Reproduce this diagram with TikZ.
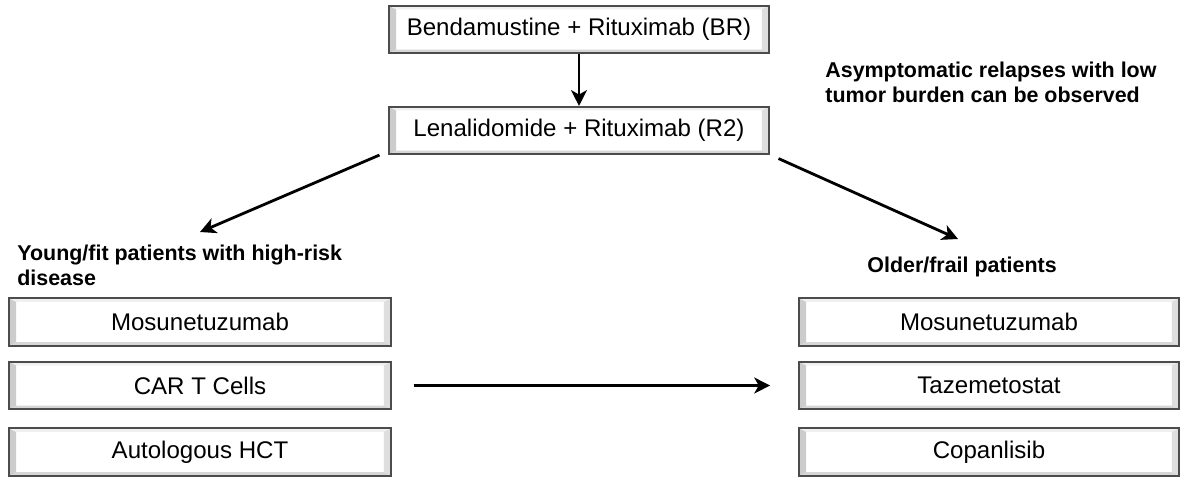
\documentclass[tikz,border=0pt]{standalone}
\usepackage{fontspec}
\setmainfont{Liberation Sans}
\usetikzlibrary{arrows.meta}

\tikzset{
  bevelbox/.style={draw=black!70, line width=0.9pt, fill=white,
    minimum height=0.95cm, inner sep=0pt,
    font=\fontsize{13.7}{16}\selectfont,
    path picture={
      \coordinate (pnw) at (path picture bounding box.north west);
      \coordinate (pne) at (path picture bounding box.north east);
      \coordinate (psw) at (path picture bounding box.south west);
      \coordinate (pse) at (path picture bounding box.south east);
      \fill[black!20] (pnw) -- (psw) -- ([shift={(4pt,2pt)}]psw) -- ([shift={(4pt,-2pt)}]pnw) -- cycle;
      \fill[black!6] (pnw) -- (pne) -- ([shift={(-4pt,-2pt)}]pne) -- ([shift={(4pt,-2pt)}]pnw) -- cycle;
      \fill[black!13] (pne) -- (pse) -- ([shift={(-4pt,2pt)}]pse) -- ([shift={(-4pt,-2pt)}]pne) -- cycle;
      \fill[black!16] (psw) -- (pse) -- ([shift={(-4pt,2pt)}]pse) -- ([shift={(4pt,2pt)}]psw) -- cycle;}},
  note/.style={font=\fontsize{12.2}{13.8}\selectfont\bfseries, align=left, inner sep=0pt},
  arr/.style={-{Stealth[length=9pt,width=9pt,inset=2.5pt]}, line width=1.6pt}
}

\begin{document}
\begin{tikzpicture}[x=0.02cm, y=-0.02cm]
	\useasboundingbox (0,0) rectangle (1182,478);
	% top of the chain
	\node[bevelbox, minimum width=7.6cm] (BR) at (579,29.5) {Bendamustine + Rituximab (BR)};
	\node[bevelbox, minimum width=7.6cm] (R2) at (579,130.5) {Lenalidomide + Rituximab (R2)};
	\node[note, anchor=north west] (obs) at (825,62) {Asymptomatic relapses with low\\tumor burden can be observed};
	% left branch
	\node[note, anchor=north west] (young) at (17,245) {Young/fit patients with high-risk\\disease};
	\node[bevelbox, minimum width=7.64cm] (mosL) at (200,322) {Mosunetuzumab};
	\node[bevelbox, minimum width=7.64cm] (car) at (200,385.5) {CAR T Cells};
	\node[bevelbox, minimum width=7.64cm] (auto) at (200,452) {Autologous HCT};
	% right branch
	\node[note, anchor=north west] (older) at (867,257) {Older/frail patients};
	\node[bevelbox, minimum width=7.6cm] (mosR) at (989,322) {Mosunetuzumab};
	\node[bevelbox, minimum width=7.6cm] (taz) at (989,385.5) {Tazemetostat};
	\node[bevelbox, minimum width=7.6cm] (cop) at (989,452) {Copanlisib};
	\coordinate (lefttip) at (200,232);
	\coordinate (righttip) at (958,239);
	% arrows
	\draw[arr] (BR) -- (R2);
	\draw[arr] ([xshift=-5pt]R2.south west) -- (lefttip);
	\draw[arr] ([xshift=5pt,yshift=-2pt]R2.south east) -- (righttip);
	\draw[arr, shorten <=12.5pt, shorten >=16pt] (car) -- (taz);
\end{tikzpicture}
\end{document}
